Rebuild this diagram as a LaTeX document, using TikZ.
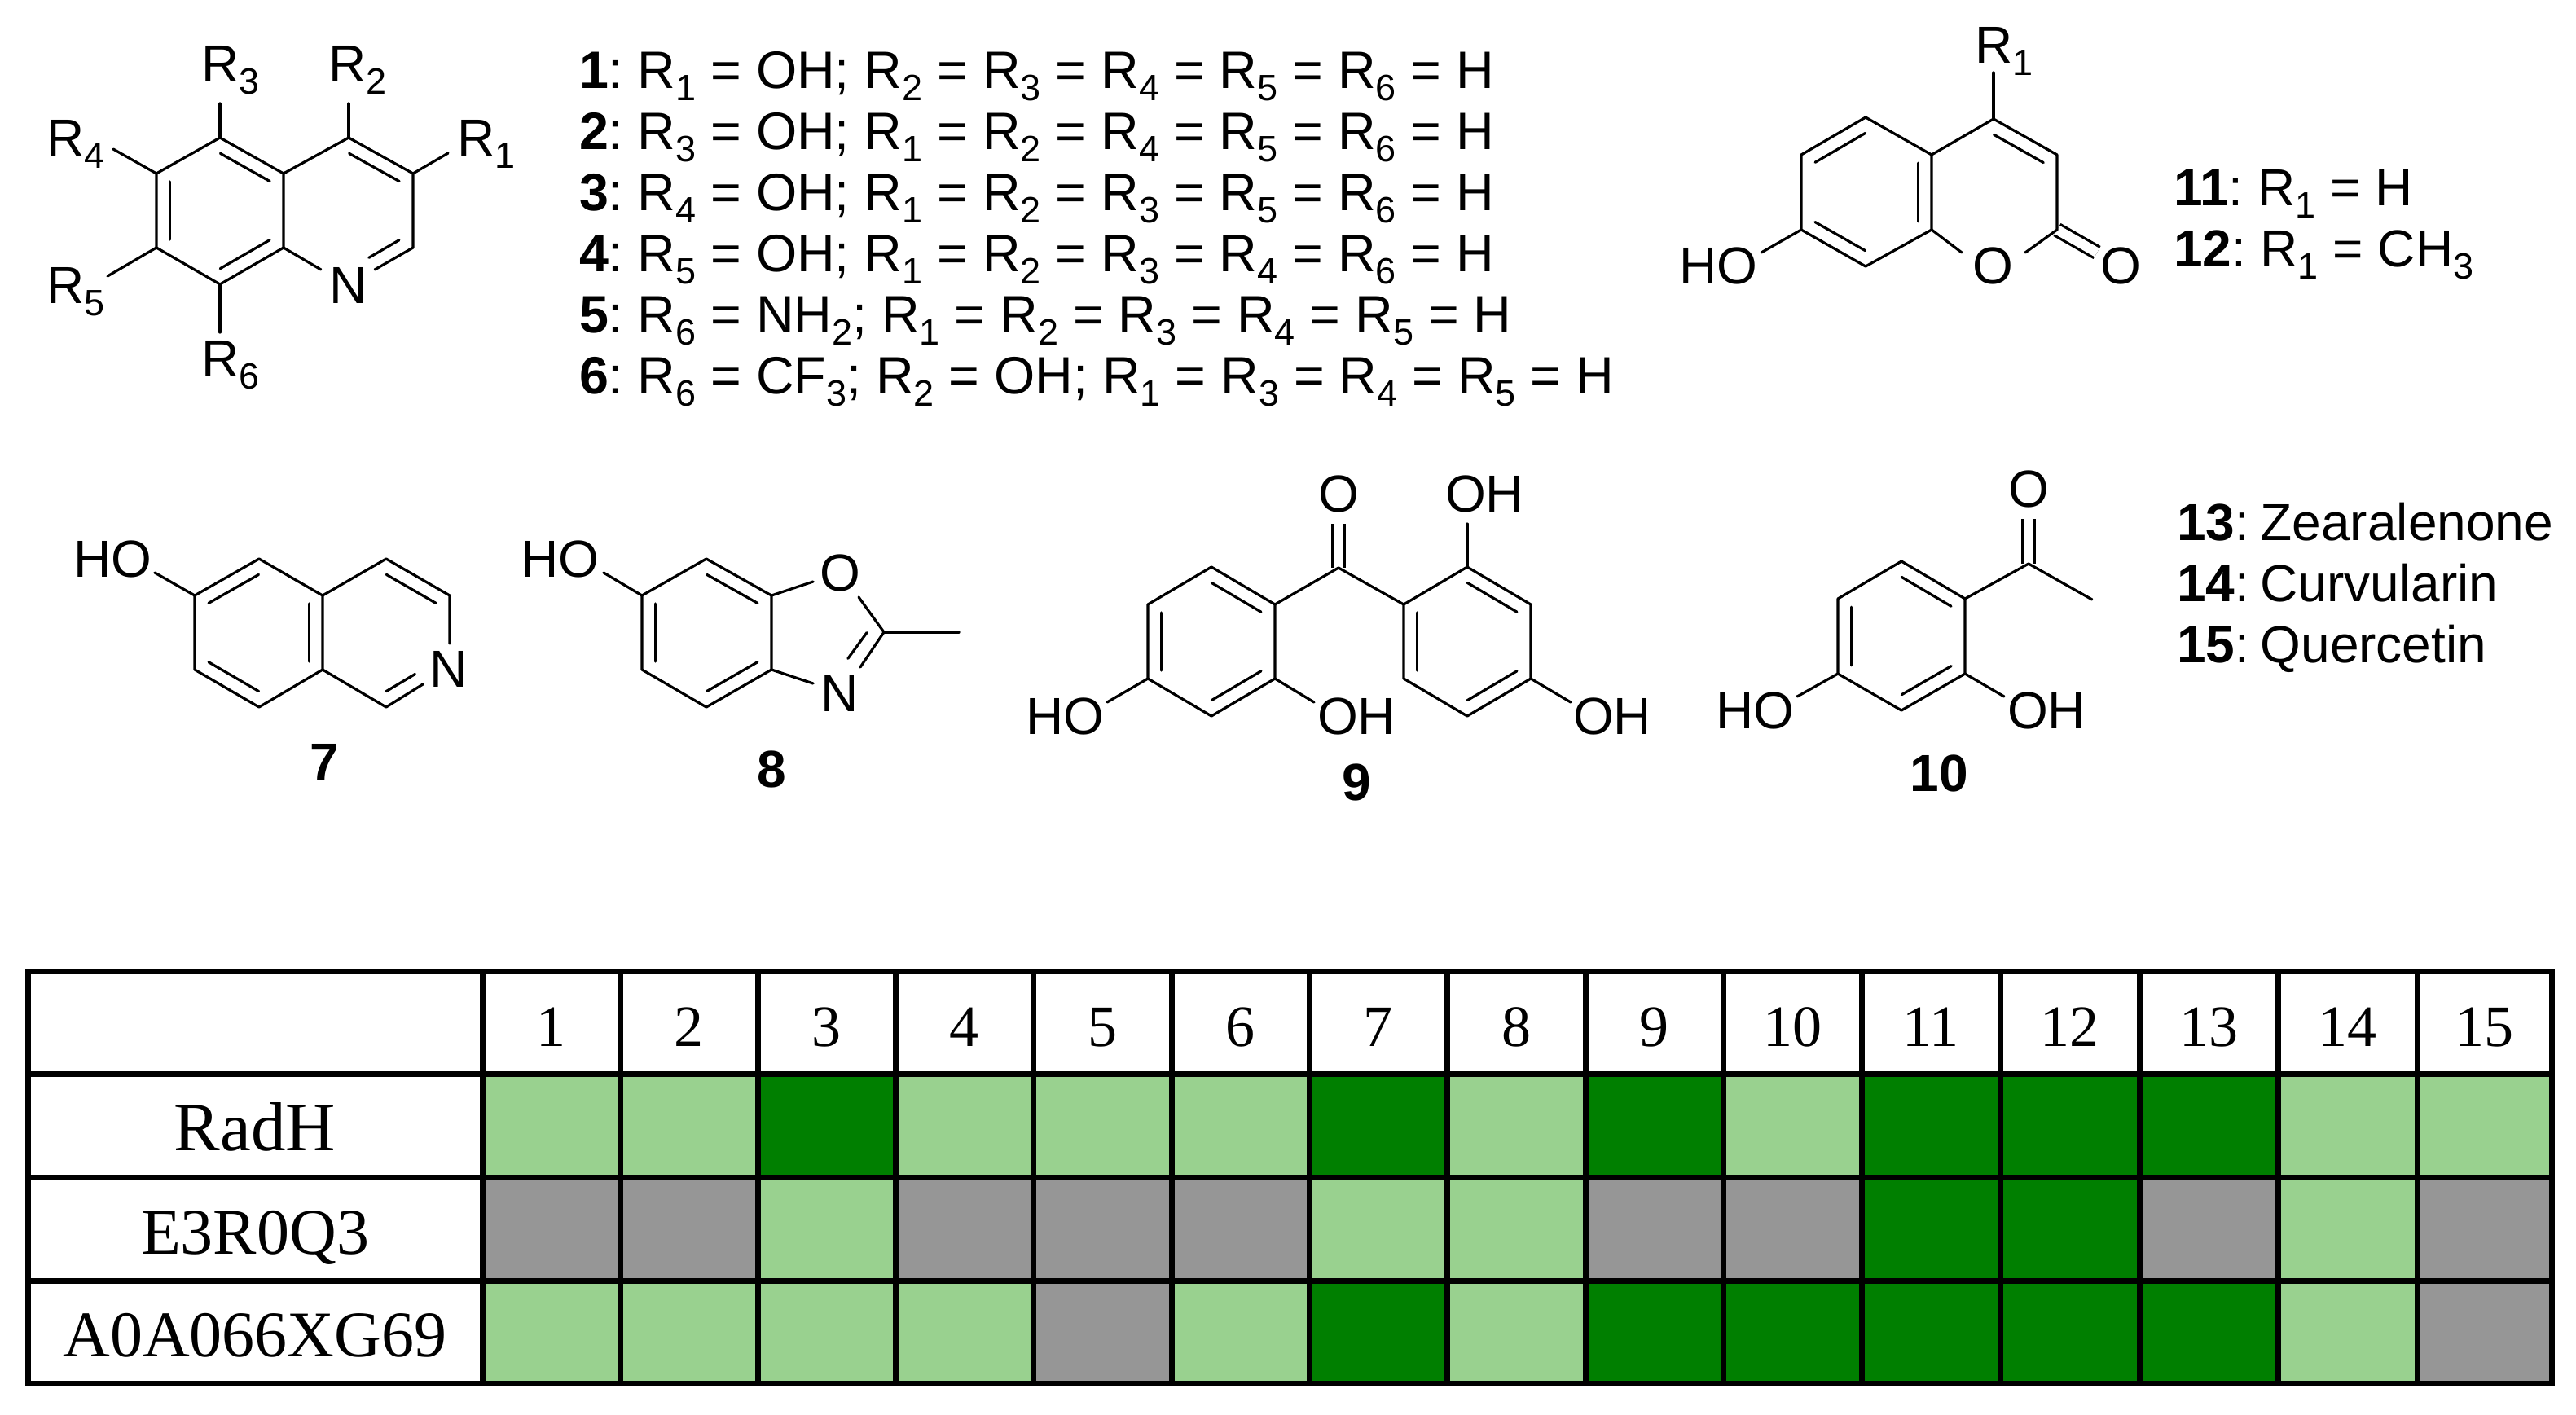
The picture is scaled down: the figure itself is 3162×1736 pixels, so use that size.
\documentclass[tikz,border=0pt]{standalone}
\usepackage{fontspec}
\setmainfont{Liberation Sans}
\newfontfamily\tabfont{Liberation Serif}
\usetikzlibrary{calc}
\definecolor{lg}{HTML}{99D18F}
\definecolor{dg}{HTML}{007F00}
\definecolor{gy}{HTML}{969696}
\newcommand\sbs[1]{\raisebox{-7.5pt}{\fontsize{22.5}{22.5}\selectfont #1}}
\newcommand\rgrp[1]{R\sbs{#1}}
\newcommand\numc[2][-3pt]{\textbf{#2}:\hspace{#1}}
\def\dboff{8.3pt}
\def\edges{{592,761,930.5,1099,1268,1438,1607,1776,1946,2115,2285,2455,2626,2796.5,2967,3132}}
% inner line of a ring double bond: a -> b runs clockwise round the ring
\newcommand\innerb[4]{\draw[bond] ($(#1)!#3!(#2)!\dboff!-90:(#2)$) -- ($(#2)!#4!(#1)!\dboff!90:(#1)$);}
\newcommand\atoms[1]{\foreach \nm/\px/\py in {#1}{\coordinate (\nm) at (\px,\py);}}
% name, column, y centre, fill, text
\newcommand\gridcell[5]{\pgfmathsetmacro\xl{\edges[#2-1]}\pgfmathsetmacro\xr{\edges[#2]}%
  \node[cell,fill=#4,minimum width={(\xr-\xl)*0.5pt}] (#1) at ({(\xl+\xr)/2},#3) {#5};}
\tikzset{
  bond/.style={line width=1.6pt,line cap=round,line join=round,black},
  dblbond/.style={line width=1.6pt,double,double distance=6pt,black},
  lab/.style={font=\fontsize{32}{36}\selectfont,inner sep=0pt,outer sep=0pt,text=black},
  lw/.style={lab,anchor=base west},
  lc/.style={lab,anchor=base},
  listt/.style={lw,font=\fontsize{32.3}{36}\selectfont},
  bnum/.style={font=\fontsize{32}{36}\selectfont\bfseries,inner sep=0pt,outer sep=0pt,anchor=base},
  cell/.style={draw=black,line width=3.5pt,inner sep=0pt,outer sep=0pt,minimum height=63.4pt,
    font=\tabfont\fontsize{36}{40}\selectfont,text height=29pt,text depth=0pt},
  rowcell/.style={cell,minimum width=279pt,font=\tabfont\fontsize{40}{44}\selectfont,text height=30pt}
}
\begin{document}
\begin{tikzpicture}[x=0.5pt,y=-0.5pt]
\useasboundingbox (0,0) rectangle (3162,1736);
\fill[white] (0,0) rectangle (3162,1736);

% ---------- quinoline ----------
\atoms{q1/270/169,q2/348/213,q3/348/304,q4/270/349,q5/192/304,q6/192/213,q7/428/169,q8/507/213,q9/507/304,qNv/428/350,
 qeR3/270/127,qeR2/428/127,qeR1/550/188,qeR4/139/183,qeR5/132/339,qeR6/270/408,qeN1/394/331,qeN2/460/331}
\draw[bond] (q1)--(q2)--(q3)--(q4)--(q5)--(q6)--cycle;
\draw[bond] (q2)--(q7)--(q8)--(q9)--(qeN2);
\draw[bond] (q3)--(qeN1);
\draw[bond] (q1)--(qeR3); \draw[bond] (q7)--(qeR2); \draw[bond] (q8)--(qeR1);
\draw[bond] (q6)--(qeR4); \draw[bond] (q5)--(qeR5); \draw[bond] (q4)--(qeR6);
\innerb{q1}{q2}{.11}{.11} \innerb{q3}{q4}{.11}{.11} \innerb{q5}{q6}{.11}{.11} \innerb{q7}{q8}{.11}{.11}
\innerb{q9}{qNv}{.11}{.42}
\node[lw] (qR3) at (247,100) {\rgrp{3}};
\node[lw] (qR2) at (403,100) {\rgrp{2}};
\node[lw] (qR1) at (561,191) {\rgrp{1}};
\node[lw] (qR4) at (57,191) {\rgrp{4}};
\node[lw] (qR5) at (57,372) {\rgrp{5}};
\node[lw] (qR6) at (247,462) {\rgrp{6}};
\node[lc] (qN) at (428,372) {N};

% ---------- substituent list ----------
\node[listt] (l1) at (711,108) {\numc{1} \rgrp{1} = OH; \rgrp{2} = \rgrp{3} = \rgrp{4} = \rgrp{5} = \rgrp{6} = H};
\node[listt] (l2) at (711,183) {\numc{2} \rgrp{3} = OH; \rgrp{1} = \rgrp{2} = \rgrp{4} = \rgrp{5} = \rgrp{6} = H};
\node[listt] (l3) at (711,258) {\numc{3} \rgrp{4} = OH; \rgrp{1} = \rgrp{2} = \rgrp{3} = \rgrp{5} = \rgrp{6} = H};
\node[listt] (l4) at (711,333) {\numc{4} \rgrp{5} = OH; \rgrp{1} = \rgrp{2} = \rgrp{3} = \rgrp{4} = \rgrp{6} = H};
\node[listt] (l5) at (711,408) {\numc{5} \rgrp{6} = NH\sbs{2}; \rgrp{1} = \rgrp{2} = \rgrp{3} = \rgrp{4} = \rgrp{5} = H};
\node[listt] (l6) at (711,483) {\numc{6} \rgrp{6} = CF\sbs{3}; \rgrp{2} = OH; \rgrp{1} = \rgrp{3} = \rgrp{4} = \rgrp{5} = H};

% ---------- coumarin ----------
\atoms{c1/2290/144,c2/2371/190,c3/2371/282,c4/2290/327,c5/2211/282,c6/2211/190,c7/2447/146,c8/2525/190,c9/2525/282,
 ceR/2447/89,ceHO/2162/310,ceO1/2408/310,ceO2/2486/310,ceOx/2574/310}
\draw[dblbond] (c9)--(ceOx);
\draw[bond] (c1)--(c2)--(c3)--(c4)--(c5)--(c6)--cycle;
\draw[bond] (c2)--(c7)--(c8)--(c9)--(ceO2);
\draw[bond] (c3)--(ceO1); \draw[bond] (c7)--(ceR); \draw[bond] (c5)--(ceHO);
\innerb{c6}{c1}{.11}{.11} \innerb{c2}{c3}{.11}{.11} \innerb{c4}{c5}{.11}{.11} \innerb{c7}{c8}{.11}{.11}
\node[lw] (cR) at (2424,77) {\rgrp{1}};
\node[lc] (cHO) at (2109,348) {HO};
\node[lc] (cO1) at (2446,348) {O};
\node[lc] (cO2) at (2603,348) {O};
\node[lw] (l11) at (2668,252) {\numc{11} \rgrp{1} = H};
\node[lw] (l12) at (2668,327) {\numc{12} \rgrp{1} = CH\sbs{3}};

% ---------- 7 ----------
\atoms{a1/318/686,a2/396/731,a3/396/822,a4/318/868,a5/239/822,a6/239/731,a7/474/686,a8/552/731,aNv/551/822,a9/474/868,
 aeHO/190/703,aeN1/552/790,aeN2/519/840}
\draw[bond] (a1)--(a2)--(a3)--(a4)--(a5)--(a6)--cycle;
\draw[bond] (a2)--(a7)--(a8)--(aeN1);
\draw[bond] (a3)--(a9)--(aeN2);
\draw[bond] (a6)--(aeHO);
\innerb{a6}{a1}{.11}{.11} \innerb{a2}{a3}{.11}{.11} \innerb{a4}{a5}{.11}{.11} \innerb{a7}{a8}{.11}{.11}
\innerb{aNv}{a9}{.43}{.11}
\node[lc] (aHO) at (138,708) {HO};
\node[lc] (aN) at (551,843) {N};
\node[bnum] (n7) at (398,957) {7};

% ---------- 8 ----------
\atoms{b1/867/686,b2/947/731,b3/947/822,b4/867/868,b5/788/822,b6/788/731,bC/1085/776,bMe/1177/776,bNv/1031/850,
 beHO/741/703,beO1/998/714,beO2/1054/733,beN1/1056/819,beN2/998/839}
\draw[bond] (b1)--(b2)--(b3)--(b4)--(b5)--(b6)--cycle;
\draw[bond] (b6)--(beHO); \draw[bond] (b2)--(beO1); \draw[bond] (beO2)--(bC)--(beN1);
\draw[bond] (b3)--(beN2); \draw[bond] (bC)--(bMe);
\innerb{b1}{b2}{.11}{.11} \innerb{b3}{b4}{.11}{.11} \innerb{b5}{b6}{.11}{.11}
\innerb{bC}{bNv}{.14}{.43}
\node[lc] (bHO) at (687,708) {HO};
\node[lc] (bO) at (1031,725) {O};
\node[lc] (bN) at (1031,873) {N};
\node[bnum] (n8) at (947,966) {8};

% ---------- 9 ----------
\atoms{d1/1487/696,d2/1565/742,d3/1565/833,d4/1487/879,d5/1409/833,d6/1409/742,dC/1643/697,
 e1/1801/696,e2/1879/742,e3/1879/833,e4/1801/879,e5/1723/833,e6/1723/742,
 deO/1643/643,deOH/1801/643,deHO/1359/862,deOHm/1613/862,deOHr/1928/862}
\draw[dblbond] (dC)--(deO);
\draw[bond] (d1)--(d2)--(d3)--(d4)--(d5)--(d6)--cycle;
\draw[bond] (e1)--(e2)--(e3)--(e4)--(e5)--(e6)--cycle;
\draw[bond] (d2)--(dC)--(e6);
\draw[bond] (e1)--(deOH); \draw[bond] (d5)--(deHO); \draw[bond] (d3)--(deOHm); \draw[bond] (e3)--(deOHr);
\innerb{d1}{d2}{.11}{.11} \innerb{d3}{d4}{.11}{.11} \innerb{d5}{d6}{.11}{.11}
\innerb{e1}{e2}{.11}{.11} \innerb{e3}{e4}{.11}{.11} \innerb{e5}{e6}{.11}{.11}
\node[lc] (dO) at (1643,628) {O};
\node[lc] (dOH) at (1822,628) {OH};
\node[lc] (dHO) at (1307,901) {HO};
\node[lc] (dOHm) at (1665,901) {OH};
\node[lc] (dOHr) at (1979,901) {OH};
\node[bnum] (n9) at (1665,982) {9};

% ---------- 10 ----------
\atoms{f1/2334/689,f2/2412/735,f3/2412/827,f4/2334/872,f5/2256/827,f6/2256/735,fC/2490/692,fMe/2568/736,
 feO/2490/637,feHO/2206/855,feOH/2460/855}
\draw[dblbond] (fC)--(feO);
\draw[bond] (f1)--(f2)--(f3)--(f4)--(f5)--(f6)--cycle;
\draw[bond] (f2)--(fC)--(fMe);
\draw[bond] (f5)--(feHO); \draw[bond] (f3)--(feOH);
\innerb{f1}{f2}{.11}{.11} \innerb{f3}{f4}{.11}{.11} \innerb{f5}{f6}{.11}{.11}
\node[lc] (fO) at (2490,622) {O};
\node[lc] (fHO) at (2154,894) {HO};
\node[lc] (fOH) at (2512,894) {OH};
\node[bnum] (n10) at (2380,971) {10};

\node[lw] (l13) at (2672,663) {\numc[-5pt]{13} Zearalenone};
\node[lw] (l14) at (2672,738) {\numc[-5pt]{14} Curvularin};
\node[lw] (l15) at (2672,813) {\numc[-5pt]{15} Quercetin};

% ---------- table ----------
\node[rowcell] (h0) at (313,1255.5) {};
\node[rowcell,font=\tabfont\fontsize{42.5}{46}\selectfont] (rA) at (313,1382) {RadH};
\node[rowcell] (rB) at (313,1509) {E3R0Q3};
\node[rowcell] (rC) at (313,1635.5) {A0A066XG69};
\foreach \i in {1,...,15}{\gridcell{h\i}{\i}{1255.5}{white}{\i}}
\foreach \i/\c in {1/lg,2/lg,3/dg,4/lg,5/lg,6/lg,7/dg,8/lg,9/dg,10/lg,11/dg,12/dg,13/dg,14/lg,15/lg}
  {\gridcell{a-\i}{\i}{1382}{\c}{}}
\foreach \i/\c in {1/gy,2/gy,3/lg,4/gy,5/gy,6/gy,7/lg,8/lg,9/gy,10/gy,11/dg,12/dg,13/gy,14/lg,15/gy}
  {\gridcell{b-\i}{\i}{1509}{\c}{}}
\foreach \i/\c in {1/lg,2/lg,3/lg,4/lg,5/gy,6/lg,7/dg,8/lg,9/dg,10/dg,11/dg,12/dg,13/dg,14/lg,15/gy}
  {\gridcell{c-\i}{\i}{1635.5}{\c}{}}
\end{tikzpicture}
\end{document}
